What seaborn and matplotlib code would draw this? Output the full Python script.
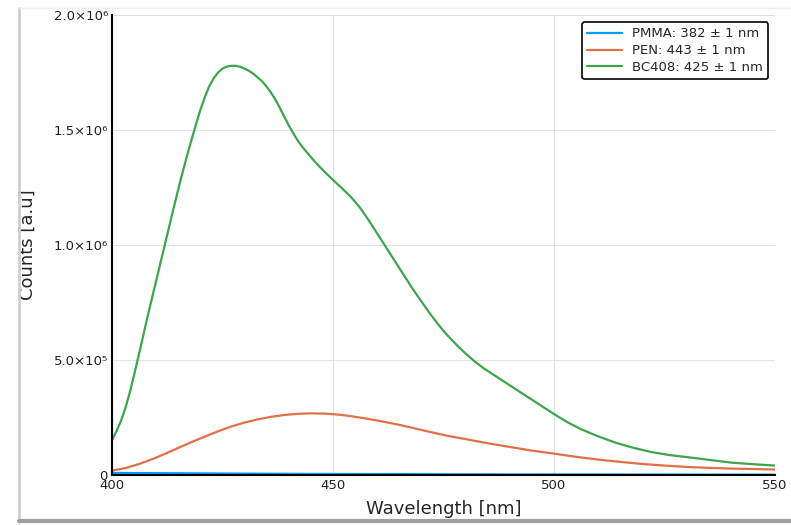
import matplotlib
matplotlib.use("Agg")
import matplotlib.pyplot as plt
from matplotlib.lines import Line2D
import seaborn as sns
import pandas as pd

# Emission spectra (counts in units of 1e6)
pmma_wl = [400, 410, 420, 430, 440, 450, 460, 470, 480, 490, 500, 510, 520, 530, 540, 550]
pmma_counts = [0.009, 0.008, 0.007, 0.006, 0.005, 0.0045, 0.004, 0.0035, 0.003, 0.0027,
               0.0024, 0.0021, 0.0019, 0.0017, 0.0015, 0.0014]

pen_wl = [400, 403, 406, 409, 412, 415, 418, 421, 424, 427, 430, 433, 436, 439, 442, 445,
          448, 451, 454, 457, 460, 464, 468, 472, 476, 480, 485, 490, 495, 500, 505, 510,
          515, 520, 525, 530, 535, 540, 545, 550]
pen_counts = [0.019, 0.030, 0.047, 0.068, 0.092, 0.118, 0.143, 0.167, 0.190, 0.211, 0.228,
              0.242, 0.253, 0.261, 0.266, 0.268, 0.267, 0.263, 0.256, 0.247, 0.237, 0.222,
              0.205, 0.187, 0.170, 0.156, 0.138, 0.122, 0.106, 0.093, 0.079, 0.067, 0.057,
              0.048, 0.041, 0.035, 0.031, 0.028, 0.026, 0.024]

bc408_wl = [400, 401, 402, 403, 404, 405, 406, 407, 408, 410, 412, 414, 415, 416, 417, 418,
            419, 420, 421, 422, 423, 424, 425, 426, 427, 428, 429, 430, 431, 432, 433, 434,
            435, 436, 437, 438, 439, 440, 441, 442, 443, 444, 446, 448, 450, 452, 454, 456,
            458, 460, 462, 464, 466, 468, 470, 472, 474, 476, 478, 480, 482, 484, 486, 488,
            490, 492, 494, 496, 498, 500, 503, 506, 510, 514, 518, 522, 526, 530, 535, 540,
            545, 550]
bc408_counts = [0.152, 0.19, 0.234, 0.289, 0.357, 0.435, 0.517, 0.6, 0.685, 0.845, 1.005,
                1.165, 1.243, 1.318, 1.39, 1.458, 1.524, 1.588, 1.643, 1.69, 1.725, 1.75,
                1.767, 1.776, 1.779, 1.779, 1.775, 1.767, 1.757, 1.744, 1.728, 1.711, 1.688,
                1.662, 1.631, 1.595, 1.557, 1.52, 1.486, 1.455, 1.428, 1.405, 1.36, 1.32,
                1.283, 1.247, 1.21, 1.165, 1.11, 1.05, 0.99, 0.93, 0.87, 0.81, 0.755, 0.70,
                0.65, 0.605, 0.565, 0.528, 0.495, 0.465, 0.44, 0.415, 0.39, 0.365, 0.34,
                0.315, 0.29, 0.265, 0.23, 0.20, 0.168, 0.14, 0.118, 0.10, 0.087, 0.078,
                0.066, 0.054, 0.047, 0.041]

labels = ["PMMA: 382 \u00b1 1 nm", "PEN: 443 \u00b1 1 nm", "BC408: 425 \u00b1 1 nm"]
colors = ["#009AFA", "#E36F47", "#3EA44E"]

x_ticks = [400, 450, 500, 550]
y_ticks = [0, 0.5e6, 1.0e6, 1.5e6, 2.0e6]
y_tick_labels = ["0", "5.0\u00d710\u2075", "1.0\u00d710\u2076",
                 "1.5\u00d710\u2076", "2.0\u00d710\u2076"]

# long format for seaborn
frames = []
for wl, cnt, lab in zip([pmma_wl, pen_wl, bc408_wl],
                        [pmma_counts, pen_counts, bc408_counts], labels):
    frames.append(pd.DataFrame({"Wavelength": wl,
                                "Counts": [c * 1e6 for c in cnt],
                                "Sample": lab}))
df = pd.concat(frames, ignore_index=True)

sns.set_theme(style="white")
plt.rcParams["font.family"] = ["DejaVu Sans"]

fig = plt.figure(figsize=(7.91, 5.25), dpi=100)
ax = fig.add_axes([112 / 791, 1 - 475 / 525, 663 / 791, 460 / 525])

sns.lineplot(data=df, x="Wavelength", y="Counts", hue="Sample", hue_order=labels,
             palette=colors, linewidth=1.6, ax=ax, estimator=None, sort=False)

ax.set_xlim(400, 550)
ax.set_ylim(0, 2.0e6)
ax.set_xticks(x_ticks)
ax.set_xticklabels([str(t) for t in x_ticks])
ax.set_yticks(y_ticks)
ax.set_yticklabels(y_tick_labels)
ax.grid(True, color="#e3e3e3", linewidth=0.8)
ax.tick_params(axis="both", direction="in", length=5, width=1, color="black",
               labelsize=9.5, labelcolor="#222222", pad=3)

for side in ["top", "right"]:
    ax.spines[side].set_visible(False)
for side in ["left", "bottom"]:
    ax.spines[side].set_color("black")
    ax.spines[side].set_linewidth(1.5)

ax.set_xlabel("Wavelength [nm]", fontsize=13, labelpad=6)
ax.set_ylabel("Counts [a.u]", fontsize=13, labelpad=12)

leg = ax.legend(loc="upper right", bbox_to_anchor=(0.99, 0.985), borderaxespad=0,
                fontsize=9.5, handlelength=2.6, frameon=True, fancybox=True,
                borderpad=0.4, labelspacing=0.3)
leg.get_frame().set_edgecolor("black")
leg.get_frame().set_linewidth(1.2)
leg.get_frame().set_alpha(1)
leg.set_title(None)

# screenshot panel shadow
fig.add_artist(Line2D([19 / 791, 19 / 791], [3 / 525, 1 - 8 / 525],
                      transform=fig.transFigure, color="#cfcfcf", linewidth=2))
fig.add_artist(Line2D([19 / 791, 1], [4 / 525, 4 / 525],
                      transform=fig.transFigure, color="#a0a0a0", linewidth=3))
fig.add_artist(Line2D([19 / 791, 1], [1 - 8 / 525, 1 - 8 / 525],
                      transform=fig.transFigure, color="#efefef", linewidth=1))

fig.savefig("out.png", dpi=100)
